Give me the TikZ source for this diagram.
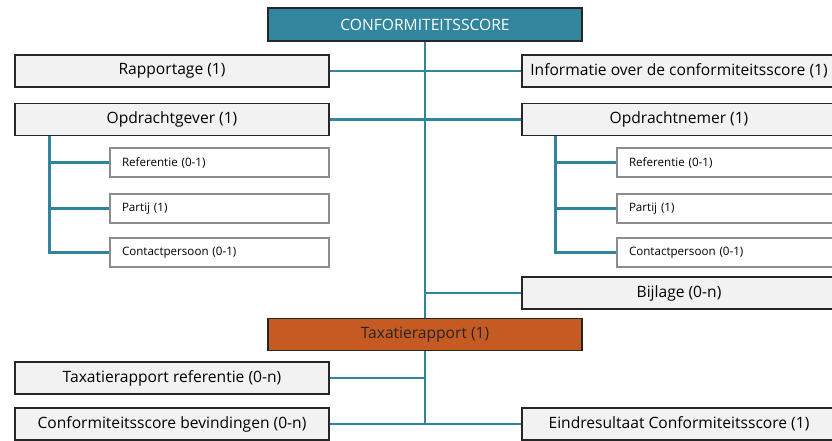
\documentclass[tikz,border=0pt]{standalone}
\usepackage{fontspec}
\setmainfont{Open Sans}
\definecolor{lijn}{HTML}{31849B}
\definecolor{kop}{HTML}{31859C}
\definecolor{oranje}{HTML}{C55A22}
\definecolor{vlak}{HTML}{F2F2F2}
\tikzset{
  hoofd/.style = {draw=black!85, line width=1.5pt, fill=vlak, minimum width=314pt,
                  minimum height=32pt, inner sep=0pt, font=\fontsize{15.6}{18}\selectfont},
  sub/.style   = {draw=black!45, line width=1.4pt, fill=white, minimum height=29pt,
                  text width=195pt, inner xsep=12pt, inner ysep=0pt, align=left,
                  font=\fontsize{11.6}{14}\selectfont},
  tak/.style   = {draw=lijn, line width=2.8pt}
}
\begin{document}
\begin{tikzpicture}[x=1pt,y=-1pt]
\useasboundingbox (0,0) rectangle (832,440);
% boven
\node[hoofd, fill=kop, text=white, minimum height=33pt] (top) at (425,24.5) {CONFORMITEITSSCORE};
\node[hoofd] (rap) at (172,71) {Rapportage (1)};
\node[hoofd] (inf) at (679,71) {Informatie over de conformiteitsscore (1)};
\node[hoofd] (opg) at (172,119.5) {Opdrachtgever (1)};
\node[hoofd] (opn) at (679,119.5) {Opdrachtnemer (1)};
\node[sub] (refL) at (219.5,162.5) {Referentie (0-1)};
\node[sub] (parL) at (219.5,208.5) {Partij (1)};
\node[sub] (conL) at (219.5,252.5) {Contactpersoon (0-1)};
\node[sub] (refR) at (726.5,162.5) {Referentie (0-1)};
\node[sub] (parR) at (726.5,208.5) {Partij (1)};
\node[sub] (conR) at (726.5,252.5) {Contactpersoon (0-1)};
\node[hoofd] (bij) at (679,293) {Bijlage (0-n)};
% onder
\node[hoofd, fill=oranje, text=black!85] (tax) at (425,334.5) {Taxatierapport (1)};
\node[hoofd] (tref) at (172,378) {Taxatierapport referentie (0-n)};
\node[hoofd] (cbev) at (172,424) {Conformiteitsscore bevindingen (0-n)};
\node[hoofd] (eind) at (679,424) {Eindresultaat Conformiteitsscore (1)};

\draw[tak] (top.south) -- (tax.north);
\draw[tak] (tax.south) -- (cbev.east -| tax.south);
\draw[tak] (rap.east) -- (inf.west);
\draw[tak] (opg.east) -- (opn.west);
\draw[tak] (bij.west) -- (bij.west -| top.south);
\draw[tak] (tref.east) -- (tref.east -| tax.south);
\draw[tak] (cbev.east) -- (eind.west);
\foreach \s in {refL,parL,conL}
  \draw[tak] ([xshift=35pt]opg.south west) |- (\s.west);
\foreach \s in {refR,parR,conR}
  \draw[tak] ([xshift=34pt]opn.south west) |- (\s.west);
\end{tikzpicture}
\end{document}
